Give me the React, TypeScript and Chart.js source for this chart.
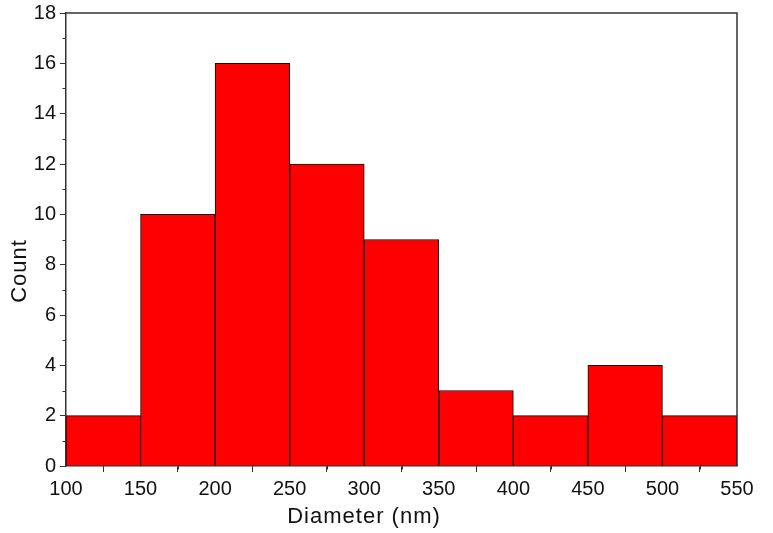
import React, { useEffect, useRef } from "react";
import { Chart, registerables } from "chart.js";

Chart.register(...registerables);

const binCenters = [125, 175, 225, 275, 325, 375, 425, 475, 525];
const counts = [2, 10, 16, 12, 9, 3, 2, 4, 2];
const xMinorTicks = [125, 175, 225, 275, 325, 375, 425, 475, 525];
const yMinorTicks = [1, 3, 5, 7, 9, 11, 13, 15, 17];
const xTitle = "Diameter (nm)";
const yTitle = "Count";

const AXIS_COLOR = "#333333";
const FONT = "'Liberation Sans', Arial, sans-serif";

export default function App() {
  const ref = useRef<HTMLCanvasElement>(null);
  useEffect(() => {
    if (!ref.current) return;
    const framePlugin = {
      id: "frame",
      afterDraw(chart: any) {
        const { ctx, chartArea } = chart;
        const xs = chart.scales.x;
        const ys = chart.scales.y;
        ctx.save();
        ctx.strokeStyle = AXIS_COLOR;
        ctx.lineWidth = 1.5;
        ctx.beginPath();
        ctx.moveTo(chartArea.left, chartArea.top);
        ctx.lineTo(chartArea.right, chartArea.top);
        ctx.lineTo(chartArea.right, chartArea.bottom);
        ctx.stroke();
        ctx.lineWidth = 1;
        ctx.beginPath();
        for (const v of xMinorTicks) {
          const px = Math.round(xs.getPixelForValue(v)) + 0.5;
          ctx.moveTo(px, chartArea.bottom);
          ctx.lineTo(px, chartArea.bottom + 3.5);
        }
        for (const v of yMinorTicks) {
          const py = Math.round(ys.getPixelForValue(v)) + 0.5;
          ctx.moveTo(chartArea.left, py);
          ctx.lineTo(chartArea.left - 3.5, py);
        }
        ctx.stroke();
        // axis titles
        ctx.fillStyle = "#111";
        ctx.font = `22px ${FONT}`;
        (ctx as any).letterSpacing = "1px";
        ctx.textAlign = "center";
        ctx.textBaseline = "middle";
        ctx.fillText(xTitle, 364, 517);
        ctx.translate(20, 271);
        ctx.rotate(-Math.PI / 2);
        ctx.fillText(yTitle, 0, 0);
        ctx.restore();
      },
    };
    const chart = new Chart(ref.current, {
      type: "bar",
      data: {
        datasets: [
          {
            data: binCenters.map((x, i) => ({ x, y: counts[i] })),
            backgroundColor: "#ff0000",
            borderColor: "#1a0000",
            borderWidth: 1,
            barPercentage: 1,
            categoryPercentage: 1,
          },
        ],
      },
      options: {
        animation: false,
        responsive: false,
        maintainAspectRatio: false,
        layout: { padding: { top: 13, right: 36, left: 0, bottom: 0 } },
        plugins: { legend: { display: false }, tooltip: { enabled: false } },
        scales: {
          x: {
            type: "linear",
            min: 100,
            max: 550,
            offset: false,
            ticks: { stepSize: 50, color: "#111", font: { family: FONT, size: 20 }, padding: 5, maxRotation: 0 },
            grid: { drawOnChartArea: false, drawTicks: true, tickLength: 6, color: AXIS_COLOR },
            border: { display: true, color: AXIS_COLOR, width: 1.5 },
            title: { display: false, text: xTitle },
            afterFit(s: any) { s.height = 67; s.paddingLeft = 0; s.paddingRight = 0; },
          },
          y: {
            type: "linear",
            min: 0,
            max: 18,
            ticks: { stepSize: 2, color: "#111", font: { family: FONT, size: 20 }, padding: 4 },
            grid: { drawOnChartArea: false, drawTicks: true, tickLength: 6, color: AXIS_COLOR },
            border: { display: true, color: AXIS_COLOR, width: 1.5 },
            title: { display: false, text: yTitle },
            afterFit(s: any) { s.width = 66; s.paddingTop = 0; s.paddingBottom = 0; },
          },
        },
      },
      plugins: [framePlugin],
    });
    return () => chart.destroy();
  }, []);
  return (
    <div style={{ position: "fixed", left: 0, top: 0, width: 773, height: 533, background: "#fff" }}>
      <canvas ref={ref} width={773} height={533} style={{ width: 773, height: 533 }} />
    </div>
  );
}
